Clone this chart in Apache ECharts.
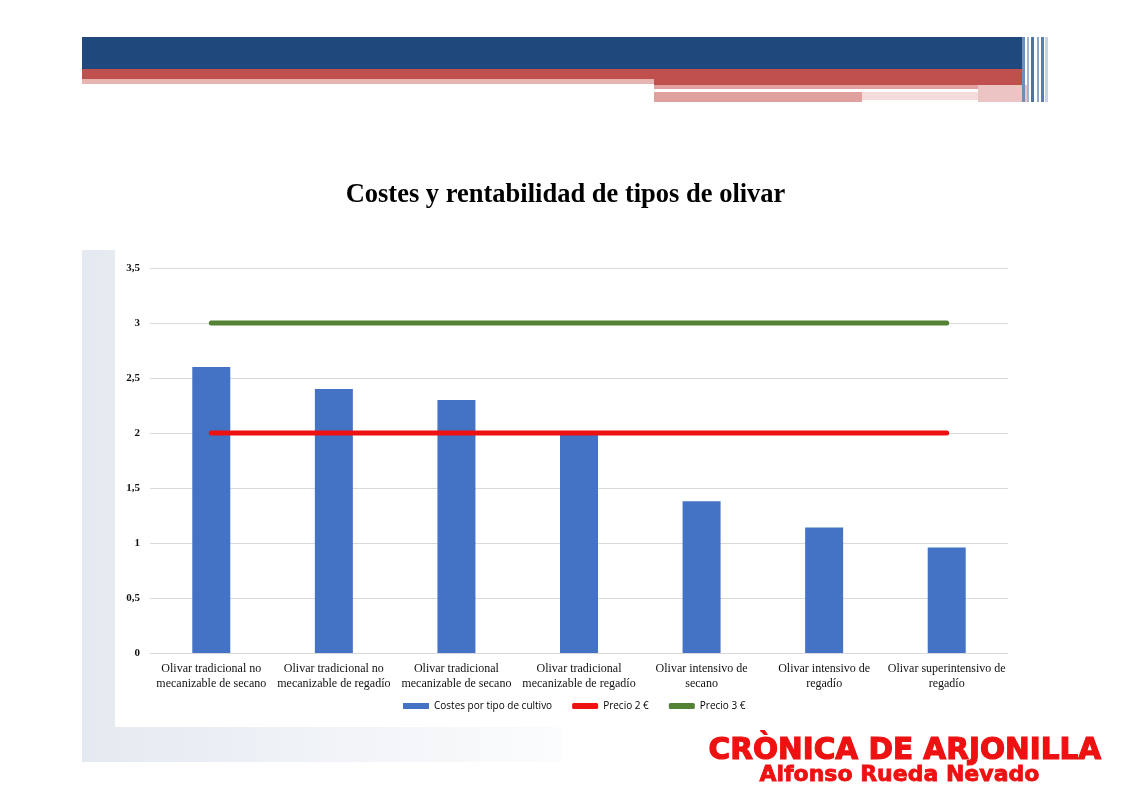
<!DOCTYPE html>
<html>
<head>
<meta charset="utf-8">
<style>
 html,body{margin:0;padding:0;background:#fff;}
 #chart{width:1131px;height:800px;}
</style>
<script src="https://cdn.jsdelivr.net/npm/echarts@6/dist/echarts.min.js"></script>
</head>
<body>
<div id="chart"></div>
<script>
var categorias = [
 "Olivar tradicional no\nmecanizable de secano",
 "Olivar tradicional no\nmecanizable de regadío",
 "Olivar tradicional\nmecanizable de secano",
 "Olivar tradicional\nmecanizable de regadío",
 "Olivar intensivo de\nsecano",
 "Olivar intensivo de\nregadío",
 "Olivar superintensivo de\nregadío"
];
var costes = [2.6, 2.4, 2.3, 2.0, 1.38, 1.14, 0.96];
var precio2 = [2, 2, 2, 2, 2, 2, 2];
var precio3 = [3, 3, 3, 3, 3, 3, 3];

var serif = "'Liberation Serif','DejaVu Serif',serif";
var sans = "'Open Sans','Noto Sans',sans-serif";

var chart = echarts.init(document.getElementById("chart"));

// cabecera y fondo de la diapositiva
var deco = [
 {type:"rect",z:-10,shape:{x:82,y:250,width:480,height:512},
  style:{fill:new echarts.graphic.LinearGradient(0,0,1,0,[{offset:0,color:"rgba(160,178,205,0.28)"},{offset:1,color:"rgba(160,178,205,0.04)"}])}},
 {type:"rect",z:-9,shape:{x:115,y:232,width:895,height:495},style:{fill:"#fff"}},
 {type:"rect",shape:{x:82,y:37,width:940,height:32},style:{fill:"#1f497d"}},
 {type:"rect",shape:{x:82,y:69,width:940,height:10},style:{fill:"#c0504d"}},
 {type:"rect",shape:{x:654,y:79,width:368,height:6},style:{fill:"#c0504d"}},
 {type:"rect",shape:{x:82,y:79,width:572,height:5},style:{fill:"#e8b4b2"}},
 {type:"rect",shape:{x:654,y:85,width:324,height:4},style:{fill:"#dfa09e"}},
 {type:"rect",shape:{x:978,y:85,width:50,height:17},style:{fill:"#ecc4c3"}},
 {type:"rect",shape:{x:654,y:92,width:208,height:10},style:{fill:"#dfa09e"}},
 {type:"rect",shape:{x:862,y:92,width:116,height:8},style:{fill:"#f3dcdb"}},
 {type:"rect",shape:{x:1022,y:37,width:3,height:65},style:{fill:"#6f8fb8"}},
 {type:"rect",shape:{x:1027,y:37,width:2,height:65},style:{fill:"#9fb5d2"}},
 {type:"rect",shape:{x:1031,y:37,width:3,height:65},style:{fill:"#4f74a4"}},
 {type:"rect",shape:{x:1037,y:37,width:2,height:65},style:{fill:"#8ea8cb"}},
 {type:"rect",shape:{x:1041,y:37,width:3,height:65},style:{fill:"#5a7dac"}},
 {type:"rect",shape:{x:1045,y:37,width:3,height:65},style:{fill:"#c8d4e6"}},
 {type:"text",left:708,top:736,style:{text:"CRÒNICA DE ARJONILLA",fill:"#ee1111",
  stroke:"#ee1111",lineWidth:1.2,
  font:"bold 29.5px 'DejaVu Sans','Liberation Sans',sans-serif"}},
 {type:"text",left:759,top:764,style:{text:"Alfonso Rueda Nevado",fill:"#ee1111",
  stroke:"#ee1111",lineWidth:0.8,
  font:"bold 22px 'DejaVu Sans','Liberation Sans',sans-serif"}}
];

var option = {
 animation:false,
 backgroundColor:"#fff",
 title:{text:"Costes y rentabilidad de tipos de olivar",left:"center",top:177,
  textStyle:{fontFamily:serif,fontSize:26.5,fontWeight:"bold",color:"#000"}},
 grid:{left:150,right:123,top:268,bottom:147},
 legend:{bottom:84,left:398,itemGap:20,itemWidth:26,itemHeight:6,
  textStyle:{fontFamily:sans,fontSize:10,color:"#000"},
  data:[
   {name:"Costes por tipo de cultivo",icon:"rect"},
   {name:"Precio 2 €",icon:"roundRect"},
   {name:"Precio 3 €",icon:"roundRect"}
  ]},
 xAxis:{type:"category",data:categorias,
  axisLine:{lineStyle:{color:"#d9d9d9"}},axisTick:{show:false},
  axisLabel:{interval:0,fontFamily:serif,fontSize:12,color:"#111",lineHeight:15,margin:8}},
 yAxis:{type:"value",min:0,max:3.5,interval:0.5,
  axisLine:{show:false},axisTick:{show:false},
  splitLine:{lineStyle:{color:"#d9d9d9"}},
  axisLabel:{fontFamily:serif,fontSize:11,fontWeight:"bold",color:"#111",margin:10,
   formatter:function(v){return String(v).replace(".",",");}}},
 series:[
  {name:"Costes por tipo de cultivo",type:"bar",data:costes,barWidth:38,
   itemStyle:{color:"#4472c4"}},
  {name:"Precio 2 €",type:"line",data:precio2,showSymbol:false,symbol:"none",
   lineStyle:{color:"#ee1111",width:5,cap:"round"},itemStyle:{color:"#ee1111"}},
  {name:"Precio 3 €",type:"line",data:precio3,showSymbol:false,symbol:"none",
   lineStyle:{color:"#548235",width:5,cap:"round"},itemStyle:{color:"#548235"}}
 ],
 graphic:deco
};
chart.setOption(option);
</script>
</body>
</html>
